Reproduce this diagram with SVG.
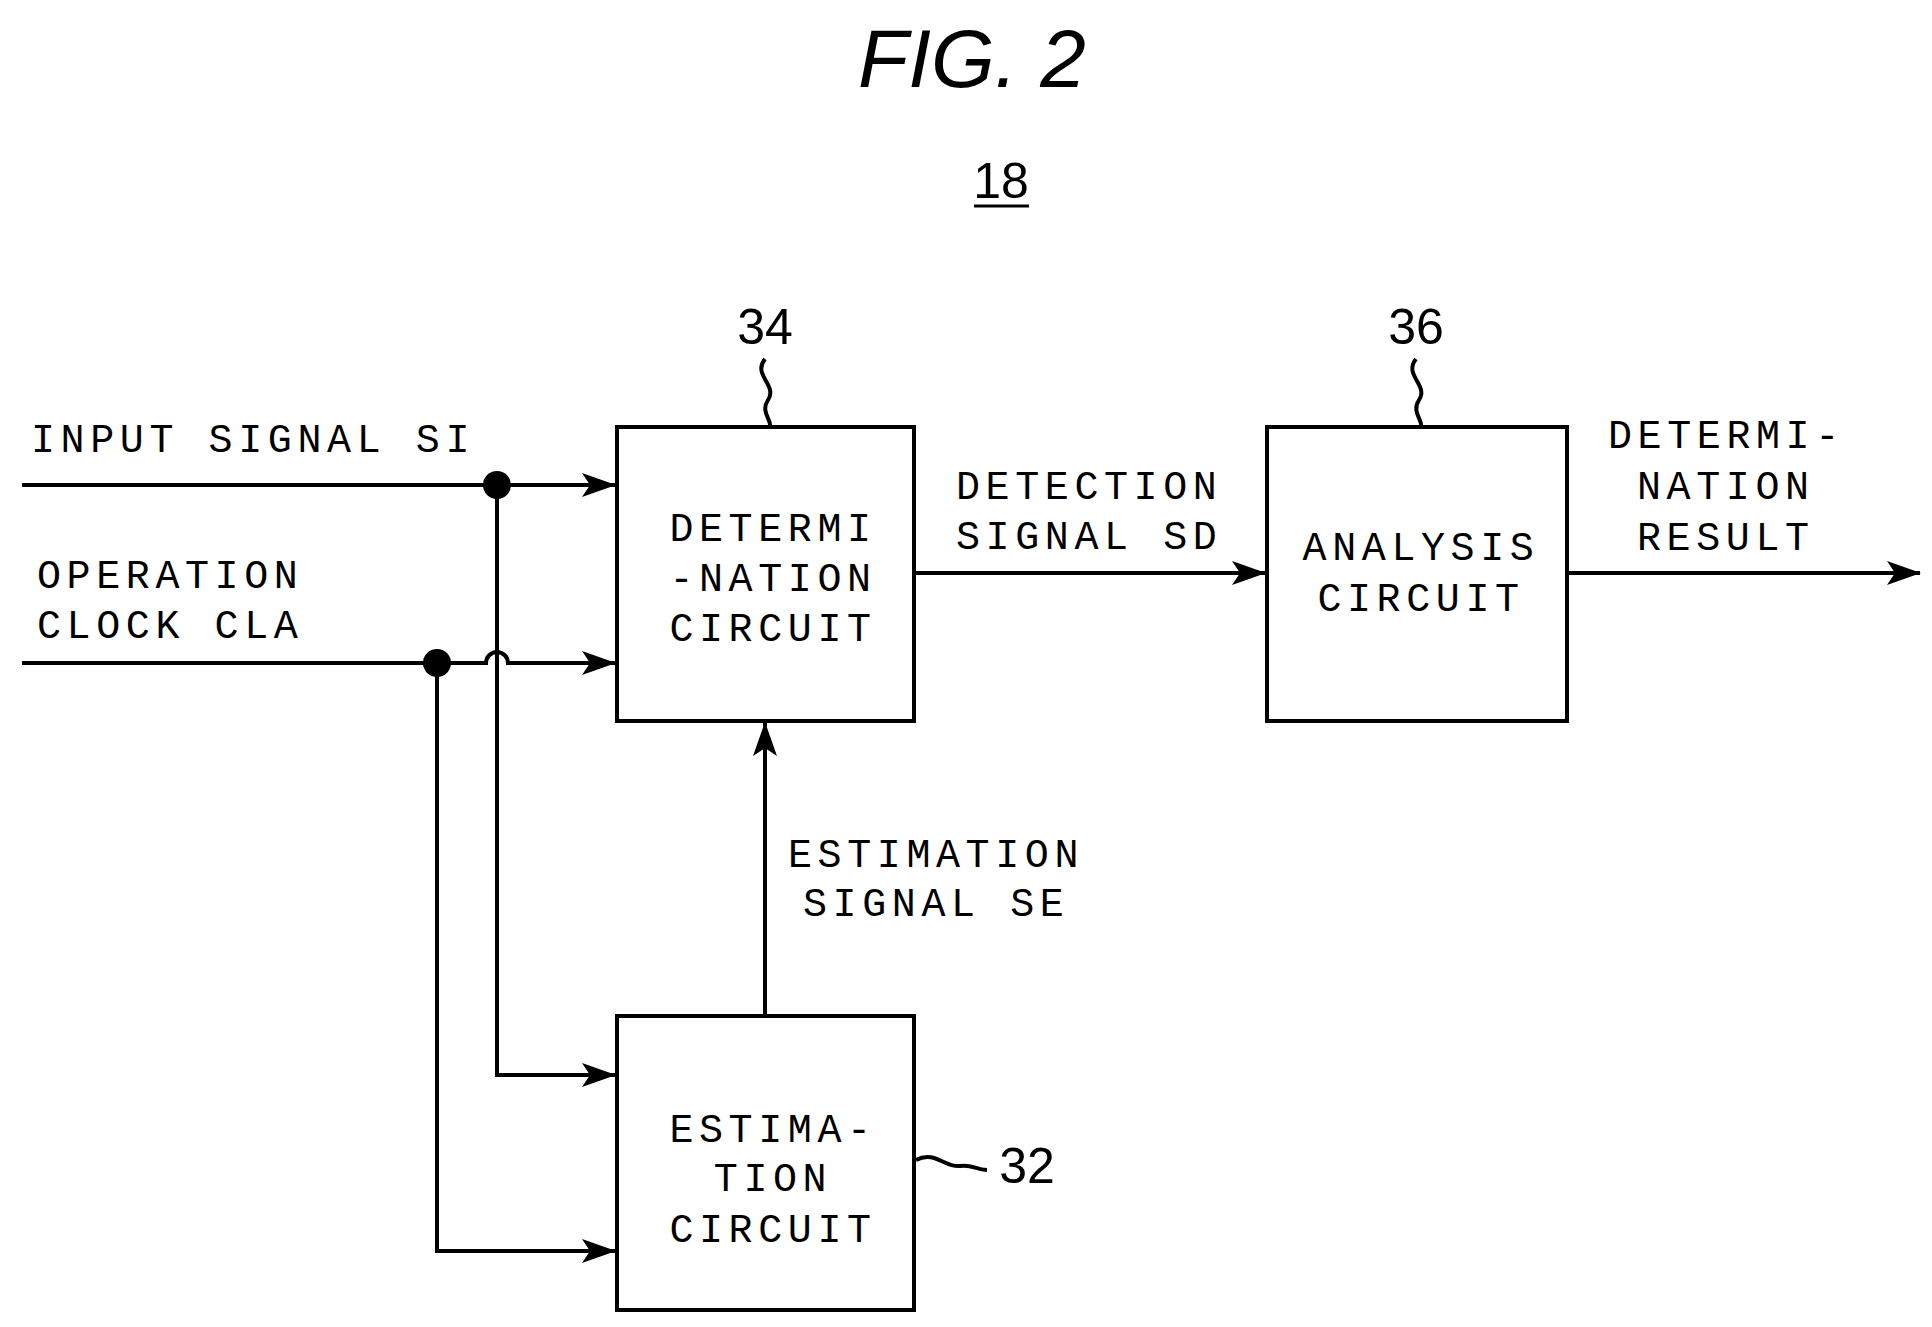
<svg xmlns="http://www.w3.org/2000/svg" width="1932" height="1327" viewBox="0 0 1932 1327">
<style>
.l{font-family:"Liberation Mono",monospace;font-size:40px;letter-spacing:5.6px;fill:#000}
.n{font-family:"Liberation Sans",Arial,sans-serif;font-size:50px;fill:#000}
.w{stroke:#000;stroke-width:4;fill:none}
.b{stroke:#000;stroke-width:4;fill:#fff}
</style>
<defs>
<marker id="a" markerWidth="10" markerHeight="10" refX="9" refY="5" orient="auto" markerUnits="userSpaceOnUse" viewBox="0 0 10 10">
</marker>
<marker id="ar" viewBox="0 0 34 24" refX="33" refY="12" markerWidth="34" markerHeight="24" orient="auto" markerUnits="userSpaceOnUse">
<path d="M0,0 L34,12 L0,24 L8,12 Z" fill="#000"/>
</marker>
</defs>
<rect width="1932" height="1327" fill="#fff"/>
<text x="972" y="87" text-anchor="middle" font-family="Liberation Sans,Arial,sans-serif" font-style="italic" font-size="82">FIG. 2</text>
<text x="1001" y="198" text-anchor="middle" class="n" font-size="46">18</text>
<line x1="974" y1="206" x2="1029" y2="206" stroke="#000" stroke-width="3"/>
<g id="connectors">
<line class="w" x1="22" y1="485" x2="615" y2="485" marker-end="url(#ar)"/>
<path class="w" d="M22,663 H486 A11,11 0 0 1 508,663 H615" marker-end="url(#ar)"/>
<path class="w" d="M497,485 V1075 H615" marker-end="url(#ar)"/>
<path class="w" d="M437,663 V1251 H615" marker-end="url(#ar)"/>
<line class="w" x1="765" y1="1016" x2="765" y2="723" marker-end="url(#ar)"/>
<line class="w" x1="914" y1="573" x2="1265" y2="573" marker-end="url(#ar)"/>
<line class="w" x1="1567" y1="573" x2="1920" y2="573" marker-end="url(#ar)"/>
<circle cx="497" cy="485" r="14"/>
<circle cx="437" cy="663" r="14"/>
<text class="l" x="31" y="452">INPUT SIGNAL SI</text>
<text class="l" x="37" y="588">OPERATION</text>
<text class="l" x="37" y="638">CLOCK CLA</text>
<text class="l" x="956" y="499">DETECTION</text>
<text class="l" x="956" y="549">SIGNAL SD</text>
<text class="l" x="788" y="867">ESTIMATION</text>
<text class="l" x="803" y="916">SIGNAL SE</text>
<text class="l" x="1608" y="448">DETERMI-</text>
<text class="l" x="1637" y="499">NATION</text>
<text class="l" x="1637" y="550">RESULT</text>
</g>
<g id="n34">
<rect class="b" x="617" y="427" width="297" height="294"/>
<text class="l" text-anchor="middle" x="773" y="541">DETERMI</text>
<text class="l" text-anchor="middle" x="773" y="591">-NATION</text>
<text class="l" text-anchor="middle" x="773" y="641">CIRCUIT</text>
<text class="n" text-anchor="middle" x="765" y="344">34</text>
<path class="w" stroke-width="2.5" d="M765,359 C752,375 778,385 768,400 C760,412 772,420 770,427"/>
</g>
<g id="n36">
<rect class="b" x="1267" y="427" width="300" height="294"/>
<text class="l" text-anchor="middle" x="1421" y="560">ANALYSIS</text>
<text class="l" text-anchor="middle" x="1421" y="611">CIRCUIT</text>
<text class="n" text-anchor="middle" x="1416" y="344">36</text>
<path class="w" stroke-width="2.5" d="M1416,359 C1403,375 1429,385 1419,400 C1411,412 1423,420 1421,427"/>
</g>
<g id="n32">
<rect class="b" x="617" y="1016" width="297" height="294"/>
<text class="l" text-anchor="middle" x="773" y="1142">ESTIMA-</text>
<text class="l" text-anchor="middle" x="773" y="1191">TION</text>
<text class="l" text-anchor="middle" x="773" y="1242">CIRCUIT</text>
<text class="n" text-anchor="middle" x="1027" y="1183">32</text>
<path class="w" stroke-width="2.5" d="M916,1160 C935,1150 945,1168 960,1166 C972,1164 976,1170 987,1170"/>
</g>
</svg>
